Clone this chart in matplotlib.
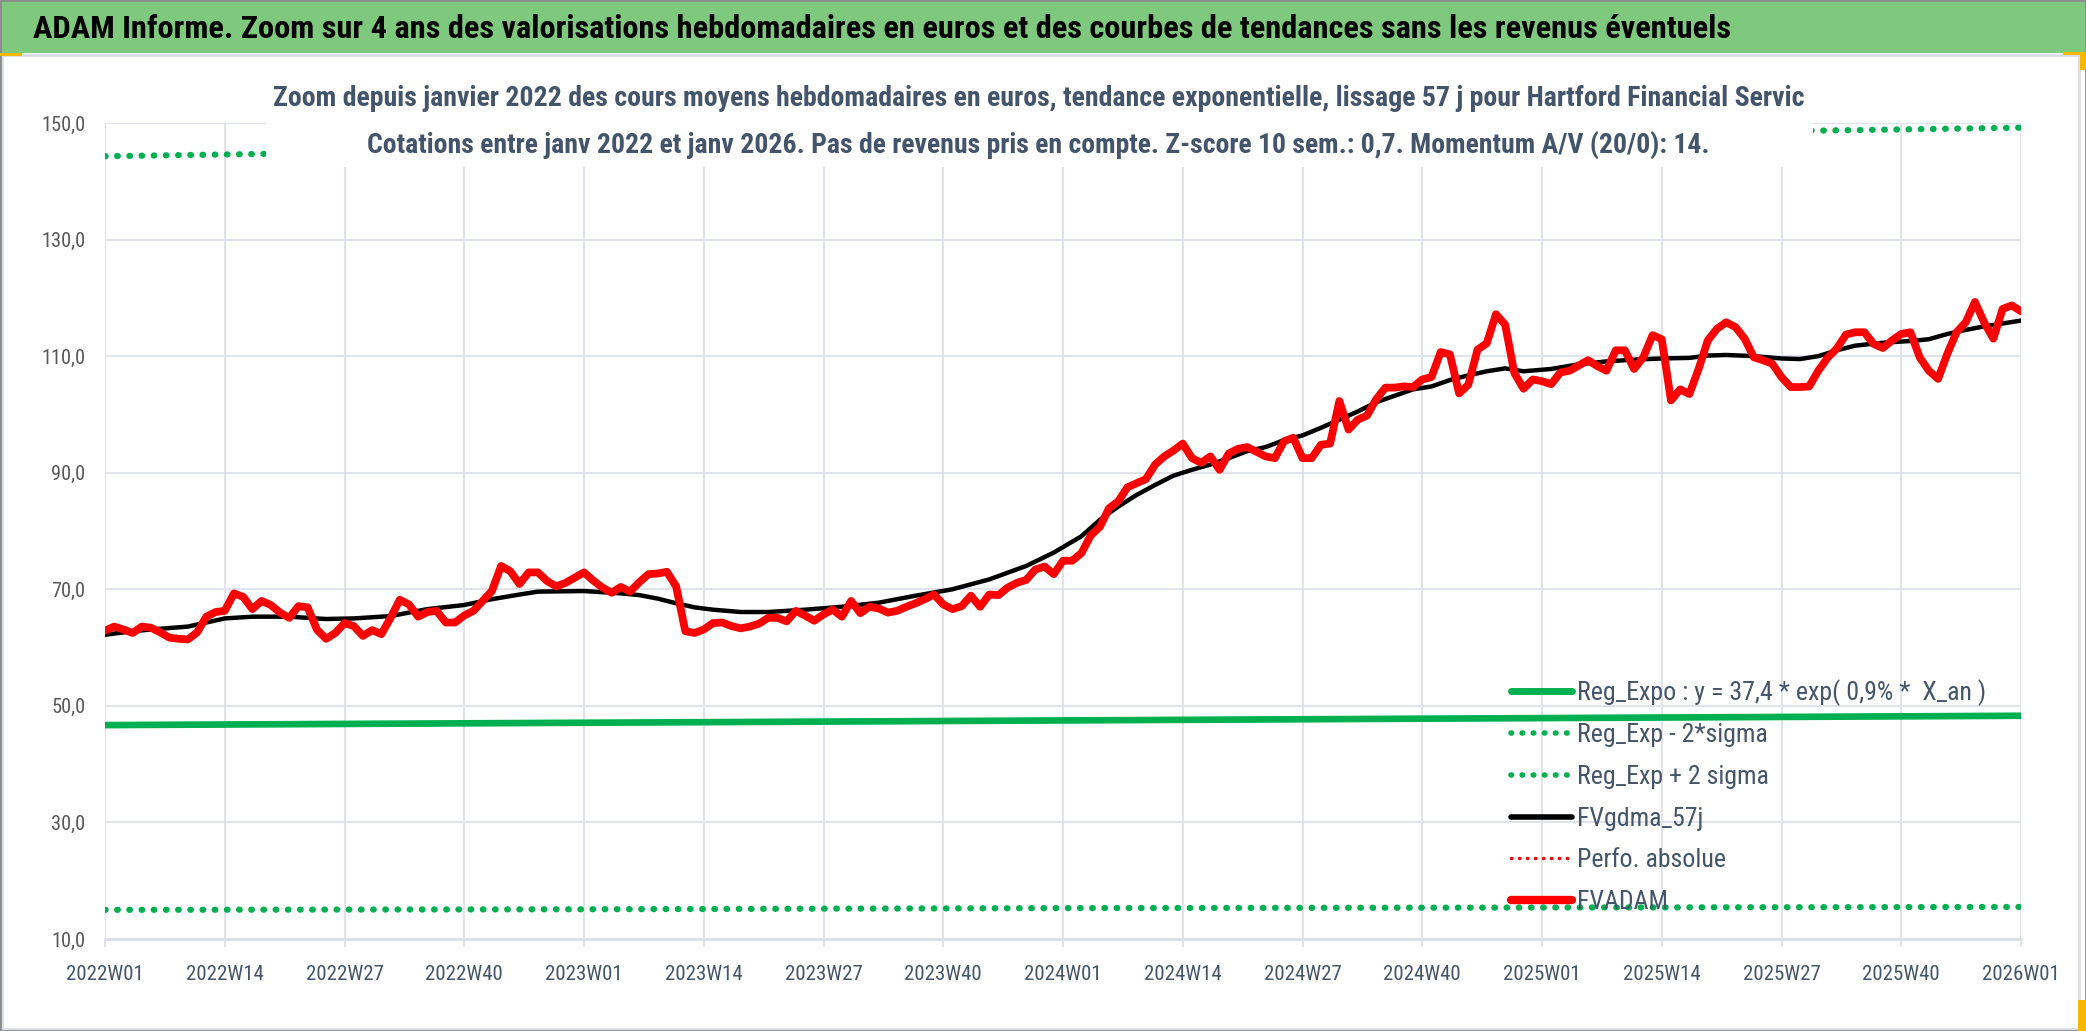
import matplotlib
matplotlib.use("Agg")
import matplotlib.pyplot as plt
from matplotlib import font_manager
from matplotlib.lines import Line2D
from matplotlib.patches import Rectangle

# weekly labels, one tick every 13 weeks
tick_labels = ['2022W01', '2022W14', '2022W27', '2022W40',
               '2023W01', '2023W14', '2023W27', '2023W40',
               '2024W01', '2024W14', '2024W27', '2024W40',
               '2025W01', '2025W14', '2025W27', '2025W40', '2026W01']
tick_weeks = [0, 13, 26, 39, 52, 65, 78, 91, 104, 117, 130, 143, 156, 169, 182, 195, 208]

# FVADAM, weekly average price (2022W01 .. 2026W01)
fvadam = [
    62.9, 63.6, 63.1, 62.5, 63.6, 63.4, 62.6, 61.7, 61.5, 61.4, 62.6, 65.3, 66.1,
    66.3, 69.3, 68.7, 66.6, 68.0, 67.3, 66.0, 65.1, 67.1, 66.9, 63.1, 61.5, 62.5,
    64.2, 63.7, 62.0, 63.0, 62.3, 65.1, 68.2, 67.4, 65.3, 66.1, 66.3, 64.3, 64.3,
    65.5, 66.3, 68.0, 69.7, 74.0, 73.1, 70.9, 72.9, 72.9, 71.4, 70.5, 71.1, 72.0,
    72.9, 71.5, 70.3, 69.4, 70.4, 69.6, 71.2, 72.6, 72.7, 73.0, 70.5, 62.8, 62.5,
    63.1, 64.2, 64.3, 63.7, 63.3, 63.6, 64.1, 65.1, 65.1, 64.5, 66.3, 65.5, 64.6,
    65.7, 66.5, 65.3, 68.0, 65.9, 67.0, 66.7, 66.0, 66.3, 67.0, 67.6, 68.3, 69.1,
    67.4, 66.6, 67.1, 68.9, 67.0, 69.1, 69.0, 70.3, 71.1, 71.6, 73.4, 73.9, 72.6,
    74.9, 74.9, 76.2, 79.2, 80.7, 83.9, 85.1, 87.5, 88.2, 88.9, 91.4, 92.8, 93.8,
    95.0, 92.5, 91.7, 92.8, 90.5, 93.3, 94.1, 94.4, 93.6, 92.8, 92.5, 95.4, 96.0,
    92.5, 92.5, 94.8, 95.0, 102.3, 97.4, 99.1, 99.8, 102.6, 104.6, 104.6, 104.8, 104.7,
    106.0, 106.4, 110.7, 110.3, 103.6, 105.1, 111.1, 112.2, 117.2, 115.4, 107.1, 104.4, 106.0,
    105.7, 105.2, 107.2, 107.5, 108.4, 109.3, 108.3, 107.5, 111.0, 111.0, 107.8, 109.8, 113.6,
    112.9, 102.4, 104.3, 103.5, 107.8, 112.7, 114.7, 115.8, 115.0, 113.0, 109.8, 109.3, 108.7,
    106.4, 104.7, 104.7, 104.8, 107.5, 109.7, 111.3, 113.7, 114.1, 114.1, 112.1, 111.4, 112.7,
    113.8, 114.1, 109.8, 107.5, 106.1, 110.4, 114.1, 115.8, 119.3, 115.8, 113.0, 118.1, 118.7,
    117.7]

# FVgdma_57j, smoothed curve read at some weeks
gdma_weeks = [0, 3, 5, 9, 11, 13, 16, 20, 24, 27, 31, 35, 39, 42, 45, 47, 52, 56, 58, 60,
              62, 64, 66, 69, 72, 76, 80, 84, 88, 92, 96, 100, 103, 106, 108, 110, 112, 114,
              116, 118, 120, 122, 124, 126, 128, 130, 132, 134, 136, 138, 140, 142, 144, 146,
              148, 150, 152, 154, 157, 160, 163, 166, 169, 172, 174, 176, 179, 182, 184, 186,
              188, 190, 193, 196, 198, 200, 202, 204, 206, 208]
gdma = [62.2, 62.8, 63.1, 63.6, 64.3, 65.0, 65.3, 65.3, 64.9, 65.0, 65.4, 66.6, 67.3, 68.3,
        69.1, 69.6, 69.7, 69.3, 69.0, 68.4, 67.6, 66.9, 66.5, 66.1, 66.1, 66.5, 67.0, 67.7,
        68.9, 70.0, 71.7, 74.0, 76.3, 79.1, 81.9, 84.2, 86.2, 87.9, 89.5, 90.5, 91.4, 92.5,
        93.7, 94.4, 95.6, 96.4, 97.7, 99.1, 100.5, 102.1, 103.2, 104.3, 104.8, 105.9, 106.7,
        107.4, 107.9, 107.4, 107.8, 108.6, 109.1, 109.4, 109.6, 109.7, 110.1, 110.2, 110.0,
        109.6, 109.5, 110.0, 111.0, 111.8, 112.3, 112.6, 112.9, 113.8, 114.5, 115.1, 115.6,
        116.1]

# exponential regression and its +/- 2 sigma band, read once a year
reg_weeks = [0, 52, 104, 156, 208]
reg_expo = [46.7, 47.1, 47.5, 47.9, 48.3]
reg_minus = [15.0, 15.1, 15.3, 15.4, 15.5]
reg_plus = [144.3, 145.5, 146.7, 148.0, 149.2]

yticks = [10, 30, 50, 70, 90, 110, 130, 150]

title = ("ADAM Informe. Zoom sur 4 ans des valorisations hebdomadaires en euros "
         "et des courbes de tendances sans les revenus éventuels")
sub1 = ("Zoom depuis janvier 2022 des cours moyens hebdomadaires en euros, tendance "
        "exponentielle, lissage 57 j pour Hartford Financial Servic")
sub2 = ("Cotations entre janv 2022 et janv 2026. Pas de revenus pris en compte. "
        "Z-score 10 sem.: 0,7. Momentum A/V (20/0): 14.")
legend_labels = ['Reg_Expo : y = 37,4 * exp( 0,9% *  X_an )', 'Reg_Exp - 2*sigma',
                 'Reg_Exp + 2 sigma', 'FVgdma_57j', 'Perfo. absolue', 'FVADAM']

GREEN = '#00B050'
SLATE = '#44546A'
GRID = '#DDE1E8'

# narrow font if there is one
avail = {f.name for f in font_manager.fontManager.ttflist}
family = 'Liberation Sans'
stretch = 'normal'
for cand in ['Liberation Sans Narrow', 'Roboto Condensed', 'Open Sans Condensed']:
    if cand in avail:
        family = cand
        break
else:
    if any(f.name == 'DejaVu Sans' and f.stretch == 'condensed'
           for f in font_manager.fontManager.ttflist):
        family, stretch = 'DejaVu Sans', 'condensed'
plt.rcParams['font.family'] = [family, 'DejaVu Sans']
plt.rcParams['font.stretch'] = stretch

W, H = 2086, 1031
fig = plt.figure(figsize=(W / 100, H / 100), dpi=100)
renderer = fig.canvas.get_renderer()


def size_for(s, width_px, weight='normal'):
    t = fig.text(0, 0, s, fontsize=20, fontweight=weight)
    w = t.get_window_extent(renderer).width
    t.remove()
    return 20 * width_px / w


# title band
fig.patches.append(Rectangle((0, 1 - 53 / H), 1, 53 / H, transform=fig.transFigure,
                             facecolor='#7FC97F', edgecolor='none', zorder=0))
fig.patches.append(Rectangle((2 / W, 2 / H), (2079 - 2) / W, (H - 57) / H,
                             transform=fig.transFigure, facecolor='none',
                             edgecolor='#D9DDE5', lw=2, zorder=0))
fig.patches.append(Rectangle((0, 0), 1, 1, transform=fig.transFigure, facecolor='none',
                             edgecolor='#8C8C8C', lw=2, zorder=0))
for (x0, y0, w0, h0) in [(0, 53, 22, 3), (2063, 52, 23, 3), (2080, 52, 6, 18),
                         (2078, 1000, 8, 31)]:
    fig.patches.append(Rectangle((x0 / W, 1 - (y0 + h0) / H), w0 / W, h0 / H,
                                 transform=fig.transFigure, facecolor='#F5B800',
                                 edgecolor='none', zorder=6))
fig.text(33 / W, 1 - 29 / H, title, ha='left', va='center', color='black',
         fontweight='bold', fontsize=size_for(title, 1695, 'bold'))

ax = fig.add_axes([105 / W, 1 - 939 / H, (2021 - 105) / W, (939 - 123) / H])
weeks = list(range(len(fvadam)))

ax.plot(reg_weeks, reg_expo, color=GREEN, lw=4.8, solid_capstyle='round', zorder=2)
ax.plot(reg_weeks, reg_minus, color=GREEN, lw=4.5, linestyle=(0, (0.1, 1.85)),
        dash_capstyle='round', zorder=2)
ax.plot(reg_weeks, reg_plus, color=GREEN, lw=4.5, linestyle=(0, (0.1, 1.85)),
        dash_capstyle='round', zorder=2)
ax.plot(gdma_weeks, gdma, color='black', lw=3.2, solid_capstyle='round', zorder=3)
ax.plot(weeks, fvadam, color='#FF0000', lw=5.6, solid_capstyle='round',
        solid_joinstyle='round', zorder=4)

ax.set_xlim(0, 208)
ax.set_ylim(10, 150)
ax.set_xticks(tick_weeks)
ax.set_xticklabels(tick_labels)
ax.set_yticks(yticks)
ax.set_yticklabels([f'{v:.1f}'.replace('.', ',') for v in yticks])
ax.grid(True, color=GRID, lw=1.3, zorder=0)
ax.set_axisbelow(True)
for side in ['top', 'right', 'left']:
    ax.spines[side].set_visible(False)
ax.spines['bottom'].set_color(GRID)
ax.spines['bottom'].set_linewidth(2.2)
xt_size = size_for('2022W01', 78)
yt_size = size_for('150,0', 44)
ax.tick_params(axis='x', length=6, width=1.3, color=GRID, pad=13,
               labelsize=xt_size, labelcolor=SLATE)
ax.tick_params(axis='y', length=0, pad=14, labelsize=yt_size, labelcolor='#595959')

# subtitle on a white box over the plot
fig.patches.append(Rectangle((266 / W, 1 - 167 / H), (1813 - 266) / W, (167 - 60) / H,
                             transform=fig.transFigure, facecolor='white',
                             edgecolor='none', zorder=5))
fig.text(1039 / W, 1 - 98 / H, sub1, ha='center', va='center', color=SLATE,
         fontweight='bold', fontsize=size_for(sub1, 1532, 'bold'), zorder=6)
fig.text(1038 / W, 1 - 145 / H, sub2, ha='center', va='center', color=SLATE,
         fontweight='bold', fontsize=size_for(sub2, 1340, 'bold'), zorder=6)

handles = [Line2D([], [], color=GREEN, lw=5, solid_capstyle='round'),
           Line2D([], [], color=GREEN, lw=4, linestyle=(0, (0.1, 1.9)), dash_capstyle='round'),
           Line2D([], [], color=GREEN, lw=4, linestyle=(0, (0.1, 1.9)), dash_capstyle='round'),
           Line2D([], [], color='black', lw=4, solid_capstyle='round'),
           Line2D([], [], color='#FF0000', lw=2.5, linestyle=(0, (0.1, 2.2)), dash_capstyle='round'),
           Line2D([], [], color='#FF0000', lw=6, solid_capstyle='round')]
leg_size = size_for(legend_labels[0], 408)
leg = fig.legend(handles, legend_labels, loc='upper left',
                 bbox_to_anchor=(1511 / W, 1 - 679 / H), frameon=False,
                 fontsize=leg_size, borderpad=0, borderaxespad=0,
                 handlelength=61 / (leg_size * 100 / 72), handletextpad=0.2,
                 labelspacing=0.68)
for t in leg.get_texts():
    t.set_color(SLATE)
leg.set_zorder(7)

fig.savefig('out.png', dpi=100)
